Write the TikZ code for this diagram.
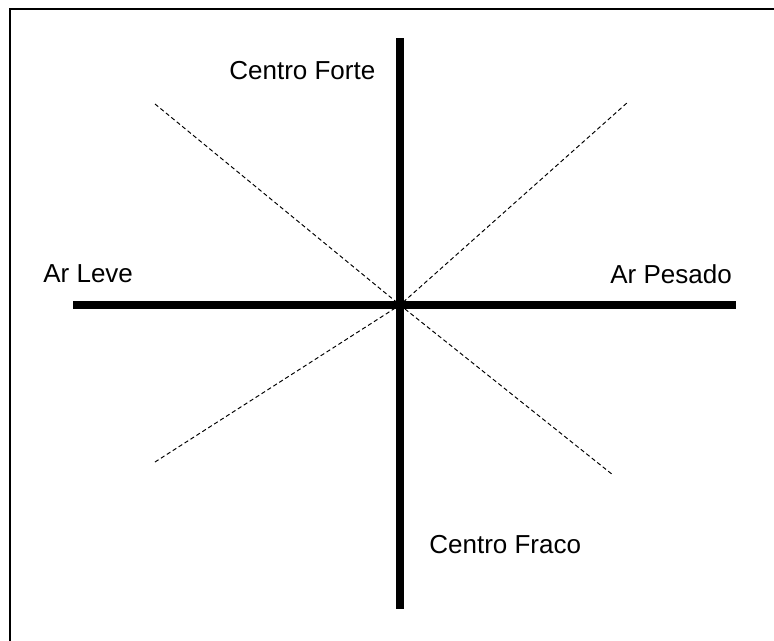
\documentclass[tikz,border=0pt]{standalone}
\usepackage{fontspec}
\setmainfont{Liberation Sans}
\usetikzlibrary{positioning}
\tikzset{
  axisline/.style={line width=5.1pt, draw=black},
  diagline/.style={line width=0.55pt, draw=black, dash pattern=on 2.4pt off 1.6pt},
  frameline/.style={line width=1.7pt, draw=black},
  axlbl/.style={font=\fontsize{14.8}{17}\selectfont, text=black, inner sep=0pt, anchor=base west},
}
\begin{document}
\begin{tikzpicture}[x=0.02cm, y=-0.02cm]
  \useasboundingbox (0,0) rectangle (774,640);
  \clip (0,0) rectangle (774,640);
  % frame (right and bottom edges fall outside the picture)
  \draw[frameline] (10,9) rectangle (800,670);
  % axis ends and centre
  \coordinate (o) at (400,305);
  \coordinate (top) at (400,38);
  \coordinate (bot) at (400,609);
  \coordinate (lft) at (73,305);
  \coordinate (rgt) at (736,305);
  \coordinate (nw) at (155,104);
  \coordinate (se) at (613,475);
  \coordinate (ne) at (628,102);
  \coordinate (sw) at (155,462);
  \draw[diagline] (nw) -- (o) -- (se);
  \draw[diagline] (sw) -- (o) -- (ne);
  \draw[axisline] (lft) -- (rgt);
  \draw[axisline] (top) -- (bot);
  \node[axlbl] (forte) at (229,79) {Centro Forte};
  \node[axlbl] (fraco) at (429,553) {Centro Fraco};
  \node[axlbl] (leve) at (43,282) {Ar Leve};
  \node[axlbl] (pesado) at (610,283) {Ar Pesado};
\end{tikzpicture}
\end{document}
